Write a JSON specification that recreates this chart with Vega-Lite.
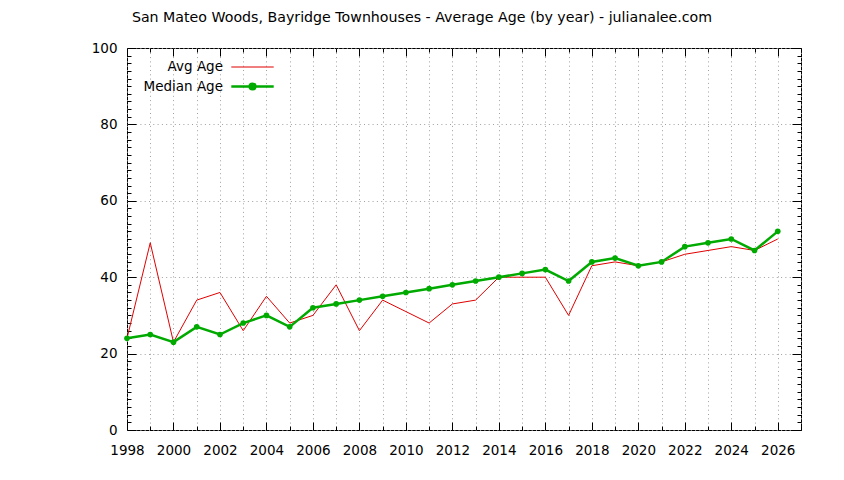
{
  "$schema": "https://vega.github.io/schema/vega-lite/v6.json",
  "description": "San Mateo Woods, Bayridge Townhouses - average and median age by year",
  "autosize": {"type": "none"},
  "padding": {"left": 127, "top": 48, "right": 43, "bottom": 50},
  "width": 674,
  "height": 382,
  "background": "white",
  "title": {
    "text": "San Mateo Woods, Bayridge Townhouses - Average Age (by year) - julianalee.com",
    "anchor": "middle",
    "dx": -42,
    "offset": 16,
    "font": "DejaVu Sans",
    "fontSize": 14.2,
    "fontWeight": "normal",
    "color": "black"
  },
  "config": {
    "view": {"stroke": "black", "strokeWidth": 1},
    "axis": {
      "labelFont": "DejaVu Sans",
      "labelFontSize": 13.5,
      "labelColor": "black",
      "domain": false,
      "tickColor": "black",
      "tickWidth": 1,
      "gridColor": "#a0a0a0",
      "gridDash": [1, 3.3],
      "gridWidth": 1,
      "title": null
    }
  },
  "data": {
    "values": [
      {"year": 1998, "series": "Avg Age", "age": 24},
      {"year": 1999, "series": "Avg Age", "age": 49},
      {"year": 2000, "series": "Avg Age", "age": 23},
      {"year": 2001, "series": "Avg Age", "age": 34},
      {"year": 2002, "series": "Avg Age", "age": 36},
      {"year": 2003, "series": "Avg Age", "age": 26},
      {"year": 2004, "series": "Avg Age", "age": 35},
      {"year": 2005, "series": "Avg Age", "age": 28},
      {"year": 2006, "series": "Avg Age", "age": 30},
      {"year": 2007, "series": "Avg Age", "age": 38},
      {"year": 2008, "series": "Avg Age", "age": 26},
      {"year": 2009, "series": "Avg Age", "age": 34},
      {"year": 2010, "series": "Avg Age", "age": 31},
      {"year": 2011, "series": "Avg Age", "age": 28},
      {"year": 2012, "series": "Avg Age", "age": 33},
      {"year": 2013, "series": "Avg Age", "age": 34},
      {"year": 2014, "series": "Avg Age", "age": 40},
      {"year": 2015, "series": "Avg Age", "age": 40},
      {"year": 2016, "series": "Avg Age", "age": 40},
      {"year": 2017, "series": "Avg Age", "age": 30},
      {"year": 2018, "series": "Avg Age", "age": 43},
      {"year": 2019, "series": "Avg Age", "age": 44},
      {"year": 2020, "series": "Avg Age", "age": 43},
      {"year": 2021, "series": "Avg Age", "age": 44},
      {"year": 2022, "series": "Avg Age", "age": 46},
      {"year": 2023, "series": "Avg Age", "age": 47},
      {"year": 2024, "series": "Avg Age", "age": 48},
      {"year": 2025, "series": "Avg Age", "age": 47},
      {"year": 2026, "series": "Avg Age", "age": 50},
      {"year": 1998, "series": "Median Age", "age": 24},
      {"year": 1999, "series": "Median Age", "age": 25},
      {"year": 2000, "series": "Median Age", "age": 23},
      {"year": 2001, "series": "Median Age", "age": 27},
      {"year": 2002, "series": "Median Age", "age": 25},
      {"year": 2003, "series": "Median Age", "age": 28},
      {"year": 2004, "series": "Median Age", "age": 30},
      {"year": 2005, "series": "Median Age", "age": 27},
      {"year": 2006, "series": "Median Age", "age": 32},
      {"year": 2007, "series": "Median Age", "age": 33},
      {"year": 2008, "series": "Median Age", "age": 34},
      {"year": 2009, "series": "Median Age", "age": 35},
      {"year": 2010, "series": "Median Age", "age": 36},
      {"year": 2011, "series": "Median Age", "age": 37},
      {"year": 2012, "series": "Median Age", "age": 38},
      {"year": 2013, "series": "Median Age", "age": 39},
      {"year": 2014, "series": "Median Age", "age": 40},
      {"year": 2015, "series": "Median Age", "age": 41},
      {"year": 2016, "series": "Median Age", "age": 42},
      {"year": 2017, "series": "Median Age", "age": 39},
      {"year": 2018, "series": "Median Age", "age": 44},
      {"year": 2019, "series": "Median Age", "age": 45},
      {"year": 2020, "series": "Median Age", "age": 43},
      {"year": 2021, "series": "Median Age", "age": 44},
      {"year": 2022, "series": "Median Age", "age": 48},
      {"year": 2023, "series": "Median Age", "age": 49},
      {"year": 2024, "series": "Median Age", "age": 50},
      {"year": 2025, "series": "Median Age", "age": 47},
      {"year": 2026, "series": "Median Age", "age": 52}
    ]
  },
  "resolve": {"axis": {"x": "independent", "y": "independent"}},
  "layer": [
    {
      "mark": {"type": "line", "interpolate": "linear"},
      "encoding": {
        "x": {
          "field": "year",
          "type": "quantitative",
          "scale": {"domain": [1998, 2027], "nice": false, "zero": false},
          "axis": {
            "orient": "bottom",
            "values": [1998, 1999, 2000, 2001, 2002, 2003, 2004, 2005, 2006, 2007, 2008, 2009, 2010, 2011, 2012, 2013, 2014, 2015, 2016, 2017, 2018, 2019, 2020, 2021, 2022, 2023, 2024, 2025, 2026, 2027],
            "format": "d",
            "labelExpr": "datum.value % 2 == 0 ? datum.label : ''",
            "labelFlush": false,
            "labelOverlap": false,
            "labelPadding": 21,
            "grid": true,
            "tickSize": {"condition": {"test": "datum.value % 2 == 0", "value": -8}, "value": -4}
          }
        },
        "y": {
          "field": "age",
          "type": "quantitative",
          "scale": {"domain": [0, 100], "nice": false},
          "axis": {
            "orient": "left",
            "values": [0, 2, 4, 6, 8, 10, 12, 14, 16, 18, 20, 22, 24, 26, 28, 30, 32, 34, 36, 38, 40, 42, 44, 46, 48, 50, 52, 54, 56, 58, 60, 62, 64, 66, 68, 70, 72, 74, 76, 78, 80, 82, 84, 86, 88, 90, 92, 94, 96, 98, 100],
            "labelExpr": "datum.value % 20 == 0 ? datum.label : ''",
            "labelFlush": false,
            "labelOverlap": false,
            "labelPadding": 19,
            "grid": true,
            "gridOpacity": {"condition": {"test": "datum.value % 20 == 0", "value": 1}, "value": 0},
            "tickSize": {"condition": {"test": "datum.value % 20 == 0", "value": -9}, "value": -4}
          }
        },
        "color": {
          "field": "series",
          "type": "nominal",
          "scale": {"domain": ["Avg Age", "Median Age"], "range": ["#e00000", "#00aa00"]},
          "legend": {
            "title": null,
            "orient": "none",
            "legendX": 117,
            "legendY": 11,
            "symbolType": "M-3,0H3",
            "symbolSize": 200,
            "symbolStrokeWidth": 1,
            "rowPadding": 4,
            "labelAlign": "right",
            "labelOffset": -38,
            "labelFont": "DejaVu Sans",
            "labelFontSize": 13.5,
            "labelColor": "black",
            "encode": {
              "symbols": {
                "update": {
                  "shape": {"signal": "datum.label == 'Median Age' ? 'M-3,0H3M0.4,0A0.4,0.4,0,1,1,-0.4,0A0.4,0.4,0,1,1,0.4,0Z' : 'M-3,0H3'"},
                  "strokeWidth": {"signal": "datum.label == 'Median Age' ? 2.5 : 1"},
                  "fill": {"signal": "datum.label == 'Median Age' ? '#00aa00' : 'transparent'"}
                }
              }
            }
          }
        },
        "strokeWidth": {
          "field": "series",
          "type": "nominal",
          "scale": {"domain": ["Avg Age", "Median Age"], "range": [1, 2.5]},
          "legend": null
        }
      }
    },
    {
      "transform": [{"filter": "datum.series == 'Median Age'"}],
      "mark": {"type": "point", "filled": true, "color": "#00aa00", "size": 32, "opacity": 1},
      "encoding": {
        "x": {
          "field": "year",
          "type": "quantitative",
          "axis": {
            "orient": "top",
            "values": [1998, 1999, 2000, 2001, 2002, 2003, 2004, 2005, 2006, 2007, 2008, 2009, 2010, 2011, 2012, 2013, 2014, 2015, 2016, 2017, 2018, 2019, 2020, 2021, 2022, 2023, 2024, 2025, 2026, 2027],
            "labels": false,
            "grid": false,
            "tickSize": {"condition": {"test": "datum.value % 2 == 0", "value": -8}, "value": -4}
          }
        },
        "y": {
          "field": "age",
          "type": "quantitative",
          "axis": {
            "orient": "right",
            "values": [0, 2, 4, 6, 8, 10, 12, 14, 16, 18, 20, 22, 24, 26, 28, 30, 32, 34, 36, 38, 40, 42, 44, 46, 48, 50, 52, 54, 56, 58, 60, 62, 64, 66, 68, 70, 72, 74, 76, 78, 80, 82, 84, 86, 88, 90, 92, 94, 96, 98, 100],
            "labels": false,
            "grid": false,
            "tickSize": {"condition": {"test": "datum.value % 20 == 0", "value": -9}, "value": -4}
          }
        }
      }
    }
  ]
}
